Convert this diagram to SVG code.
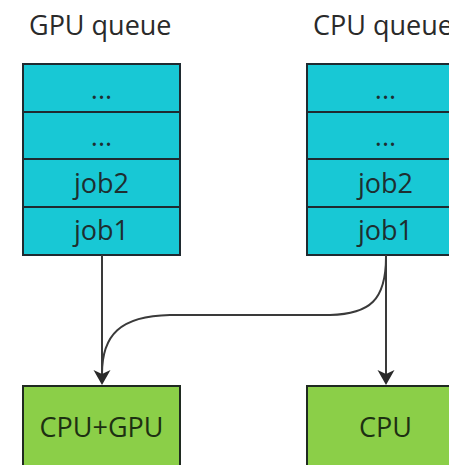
<svg xmlns="http://www.w3.org/2000/svg" width="449" height="465" viewBox="0 0 449 465">
<defs>
<style>
.q{fill:#18c8d5;stroke:#1f2a30;stroke-width:2}
.p{fill:#8bcf48;stroke:#1f2a20;stroke-width:2}
.t{font-family:"Open Sans","Noto Sans",sans-serif;font-size:27px;fill:#1e2e30;text-anchor:middle}
.g{fill:#1d3012}
.h{font-family:"Open Sans","Noto Sans",sans-serif;font-size:27px;fill:#2a2a2a}
.c{fill:none;stroke:#3a3a3a;stroke-width:2}
.a{fill:#2a2a2a}
</style>
</defs>
<rect width="449" height="465" fill="#ffffff"/>
<g id="gpu-queue">
<text class="h" x="29" y="35">GPU queue</text>
<rect class="q" x="23" y="64" width="157" height="48"/>
<rect class="q" x="23" y="112" width="157" height="47"/>
<rect class="q" x="23" y="159" width="157" height="48"/>
<rect class="q" x="23" y="207" width="157" height="48"/>
<text class="t" x="101.5" y="99">...</text>
<text class="t" x="101.5" y="146">...</text>
<text class="t" x="101.5" y="193">job2</text>
<text class="t" x="101.5" y="240">job1</text>
</g>
<g id="cpu-queue">
<text class="h" x="313" y="35">CPU queue</text>
<rect class="q" x="307" y="64" width="157" height="48"/>
<rect class="q" x="307" y="112" width="157" height="47"/>
<rect class="q" x="307" y="159" width="157" height="48"/>
<rect class="q" x="307" y="207" width="157" height="48"/>
<text class="t" x="385.5" y="99">...</text>
<text class="t" x="385.5" y="146">...</text>
<text class="t" x="385.5" y="193">job2</text>
<text class="t" x="385.5" y="240">job1</text>
</g>
<g id="cpu-gpu">
<rect class="p" x="23" y="386" width="157" height="90"/>
<text class="t g" x="101.5" y="437">CPU+GPU</text>
</g>
<g id="cpu">
<rect class="p" x="307" y="386" width="157" height="90"/>
<text class="t g" x="385.5" y="437">CPU</text>
</g>
<g id="connectors">
<path class="c" d="M102,255 V374"/>
<path class="c" d="M386,255 V374"/>
<path class="c" d="M386,257 C386,300 370,314 330,315 L170,315 C120,316 102,335 102,374"/>
<path class="a" d="M93.5,370 L102,385 L110.5,370 L102,374 Z"/>
<path class="a" d="M377.5,370 L386,385 L394.5,370 L386,374 Z"/>
</g>
</svg>
